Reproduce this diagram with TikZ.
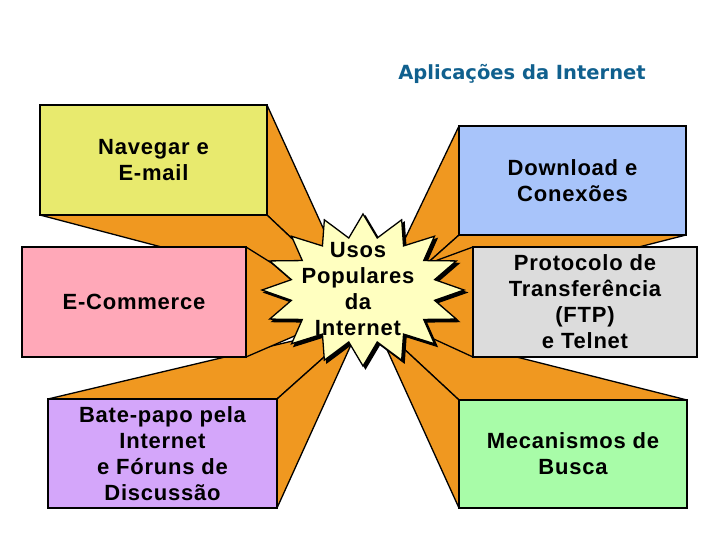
\documentclass[tikz,border=0pt]{standalone}
\usepackage{fontspec}
\setmainfont{Liberation Sans}[LetterSpace=3.5]
\newfontfamily\titlefont{DejaVu Sans}
\usetikzlibrary{calc,backgrounds}
\definecolor{navcol}{RGB}{232,234,110}
\definecolor{ecomcol}{RGB}{255,168,184}
\definecolor{chatcol}{RGB}{212,166,250}
\definecolor{downcol}{RGB}{168,196,250}
\definecolor{ftpcol}{RGB}{220,220,220}
\definecolor{buscacol}{RGB}{168,252,168}
\definecolor{facecol}{RGB}{240,152,32}
\definecolor{starcol}{RGB}{255,255,192}
\definecolor{titlecol}{RGB}{16,96,142}

\begin{document}
\begin{tikzpicture}[x=1pt,y=-1pt,font=\fontsize{22}{26}\selectfont\bfseries,
  box/.style={draw,line width=2pt,align=center,inner sep=0pt,outer sep=0pt},
  face/.style={fill=facecol,draw,line width=1.3pt,line join=round}]
  \useasboundingbox (0,0) rectangle (720,540);
  \node[text=titlecol,font=\titlefont\fontsize{19.5}{22}\selectfont\bfseries] (title) at (522,74) {Aplicações da Internet};

  \node[box,fill=navcol,minimum width=227pt,minimum height=110pt] (nav) at (153.5,160) {Navegar e\\E-mail};
  \node[box,fill=ecomcol,minimum width=224pt,minimum height=110pt] (ecom) at (134,302) {E-Commerce};
  \node[box,fill=chatcol,minimum width=229pt,minimum height=109pt] (chat) at (162.5,453.5) {Bate-papo pela\\Internet\\e Fóruns de\\Discussão};
  \node[box,fill=downcol,minimum width=227pt,minimum height=109pt] (down) at (572.5,180.5) {Download e\\Conexões};
  \node[box,fill=ftpcol,minimum width=224pt,minimum height=110pt] (ftp) at (585,302) {Protocolo de\\Transferência\\(FTP)\\e Telnet};
  \node[box,fill=buscacol,minimum width=228pt,minimum height=108pt] (busca) at (573,454) {Mecanismos de\\Busca};

  \coordinate (vnav) at (355,298);
  \coordinate (vecom) at (350,312);
  \coordinate (vchat) at (360,325);
  \coordinate (vdown) at (368,316);
  \coordinate (vbusca) at (374,321);
  \coordinate (vftp) at (340,296);
  \begin{scope}[on background layer]
    \foreach \a/\b/\v in {nav.north east/nav.south east/vnav, nav.south east/nav.south west/vnav,
        down.north west/down.south west/vdown, down.south west/down.south east/vdown,
        chat.north west/chat.north east/vchat, chat.north east/chat.south east/vchat,
        busca.north west/busca.north east/vbusca, busca.north west/busca.south west/vbusca,
        ecom.north east/ecom.south east/vecom, ftp.north west/ftp.south west/vftp}
      \draw[face] (\a) -- (\v) -- (\b) -- cycle;
  \end{scope}

  \foreach \s/\c in {2.5/black,0/starcol}
    \draw[fill=\c,line width=1.3pt,shift={(363+\s,290+\s)}] (0:101 and 76)
      \foreach \i in {0,...,15} { -- ({\i*22.5+11.25}:73 and 53) -- ({\i*22.5+22.5}:101 and 76) } -- cycle;
  \node[align=center] (usos) at (358,289) {Usos\\Populares\\da\\Internet};
\end{tikzpicture}
\end{document}
